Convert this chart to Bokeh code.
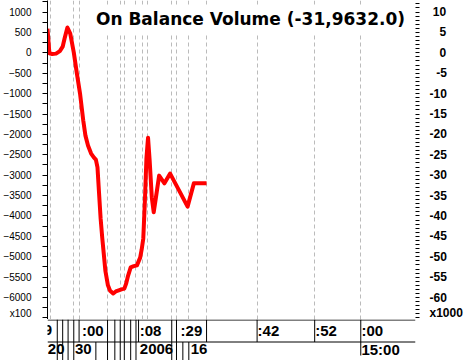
from bokeh.plotting import figure
from bokeh.models import Range1d, LinearAxis, FixedTicker, Grid, Label, CustomJSTickFormatter
from bokeh.layouts import column
from bokeh.embed import file_html
from bokeh.resources import INLINE
from bokeh.core.properties import value

# ---- data (x = bar position along the time axis, y = OBV value) ----
obv_x = [0, 2, 5, 9, 13, 16, 18, 21, 24, 27.7,
         31, 34.3, 37.7, 40, 42.7, 46, 49, 51, 52.7, 54.3,
         56, 57.7, 59.3, 61, 63.7, 66, 69.3, 72, 74.3, 78,
         81, 83, 85, 87.7, 91, 94.3, 97.7, 99.3, 101, 102.7,
         104.3, 106, 107.7, 110, 112, 114.3, 117.7, 123.3, 129.3, 137.7,
         147.7, 154.3, 167.7]
obv_y = [590, -10, -30, -20, 40, 150, 350, 620, 470, 10,
         -510, -1000, -1660, -2030, -2270, -2470, -2570, -2620, -2810, -3420,
         -4060, -4530, -4920, -5340, -5700, -5830, -5900, -5850, -5830, -5800,
         -5780, -5650, -5460, -5260, -5230, -5210, -5020, -4820, -4550, -3620,
         -2590, -2080, -2640, -3550, -3910, -3550, -3010, -3200, -2960, -3330,
         -3770, -3200, -3200]

grid_x = [3.3, 27.7, 33.3, 63.3, 76.7, 81.7, 93.3, 100, 105.7, 130.7,
          136, 148.3, 167.3, 221, 281.7, 330.3]

left_ticks = list(range(1000, -6001, -500))
left_minor = list(range(1250, -6600, -250))
left_unit_tick = -6400
left_unit_label = "x100"
right_ticks = list(range(10, -61, -5))
right_minor = list(range(12, -66, -1))
right_unit_tick = -64
right_unit_label = "x1000"

row1_sep = [10.3, 16, 21.7, 27.7, 33.3, 63.3, 71, 76.7, 81, 87.7, 93.3, 96,
            131, 136, 167.7, 221, 281.7, 330.3]
row2_sep = [10.3, 16, 21.7, 27.7, 51, 63.3, 71, 76.7, 81, 87.7, 93.3,
            131, 136, 142.7, 149]
row2_short_sep = [330.3]
row1_lbl_x = [-4, 36.3, 97.3, 140.3, 221.5, 282.3, 331]
row1_lbl = ["9", ":00", ":08", ":29", ":42", ":52", ":00"]
row2_lbl_x = [0.3, 29, 97.3, 151, 331]
row2_lbl = ["20", "30", "2006", "16", "15:00"]

title_text = "On Balance Volume (-31,9632.0)"

# ---- main panel ----
p = figure(width=465, height=319, x_range=Range1d(0, 388), y_range=Range1d(-6537, 1282),
           x_axis_location=None, y_axis_location="left", toolbar_location=None,
           output_backend="svg", min_border_left=39, min_border_right=38,
           min_border_top=0, min_border_bottom=0, outline_line_color=None)
p.xgrid.visible = False
p.ygrid.visible = False
p.add_layout(Grid(dimension=0, ticker=FixedTicker(ticks=grid_x), grid_line_color="#bbbbbb",
                  grid_line_dash="4 3", grid_line_width=1))

ax = p.yaxis[0]
ax.ticker = FixedTicker(ticks=left_ticks + [left_unit_tick], minor_ticks=left_minor)
ax.major_label_overrides = {left_unit_tick: left_unit_label}
ax.major_label_text_font = "Liberation Sans"
ax.major_label_text_font_size = "10px"
ax.major_label_text_color = "black"
ax.major_tick_in = 0
ax.major_tick_out = 0
ax.major_tick_line_color = None
ax.minor_tick_in = 0
ax.minor_tick_out = 5
ax.minor_tick_line_color = "black"
ax.major_label_standoff = 11
ax.axis_line_color = "black"

p.extra_y_ranges = {"r": Range1d(-65.37, 12.82)}
fmt = CustomJSTickFormatter(args=dict(ut=right_unit_tick, ul=right_unit_label), code="""
if (Math.abs(tick - ut) < 1e-6) return ul;
const s = tick.toFixed(0);
const neg = s.startsWith('-');
const digits = neg ? s.length - 1 : s.length;
let pad = '';
if (!neg) pad += '\\u2008';
if (digits < 2) pad += '\\u2007';
return pad + s;
""")
rax = LinearAxis(y_range_name="r",
                 ticker=FixedTicker(ticks=right_ticks + [right_unit_tick], minor_ticks=right_minor),
                 formatter=fmt, axis_line_color=None, major_tick_in=0, major_tick_out=0,
                 major_tick_line_color=None, minor_tick_in=0, minor_tick_out=4,
                 minor_tick_line_color="black", major_label_standoff=10,
                 major_label_text_font="Liberation Sans", major_label_text_font_style="bold",
                 major_label_text_font_size="12px", major_label_text_color="black")
p.add_layout(rax, "right")

p.line(obv_x, obv_y, line_color="#ff0000", line_width=4, line_join="round")

p.add_layout(Label(x=203, y=300.5, x_units="screen", y_units="screen", text=title_text,
                   text_align="center", text_baseline="alphabetic", text_font="DejaVu Sans",
                   text_font_style="bold", text_font_size="17px", text_color="black",
                   background_fill_color="white", padding=4))

# ---- time axis panel ----
p2 = figure(width=465, height=41, x_range=p.x_range, y_range=Range1d(41, 0),
            x_axis_location=None, y_axis_location=None, toolbar_location=None,
            output_backend="svg", min_border_left=39, min_border_right=38,
            min_border_top=0, min_border_bottom=0, outline_line_color=None)
p2.xgrid.visible = False
p2.ygrid.visible = False
p2.segment(x0=[0, 0], y0=[0.5, 22.5], x1=[388, 388], y1=[0.5, 22.5], line_color="black", line_width=1)
p2.segment(x0=row1_sep, x1=row1_sep, y0=0, y1=22.5, line_color="black", line_width=1)
p2.segment(x0=row2_sep, x1=row2_sep, y0=22.5, y1=41, line_color="black", line_width=1)
p2.segment(x0=row2_short_sep, x1=row2_short_sep, y0=22.5, y1=36, line_color="black", line_width=1)
p2.text(x=row1_lbl_x, y=10.5, text=row1_lbl, text_font=value("Liberation Sans"),
        text_font_style="bold", text_font_size="15px", text_baseline="alphabetic",
        text_align="left", text_color="black")
p2.text(x=row2_lbl_x, y=29.5, text=row2_lbl, text_font=value("Liberation Sans"),
        text_font_style="bold", text_font_size="15px", text_baseline="alphabetic",
        text_align="left", text_color="black")

layout = column(p, p2, spacing=0)
open("out.html", "w").write(file_html(layout, INLINE))
